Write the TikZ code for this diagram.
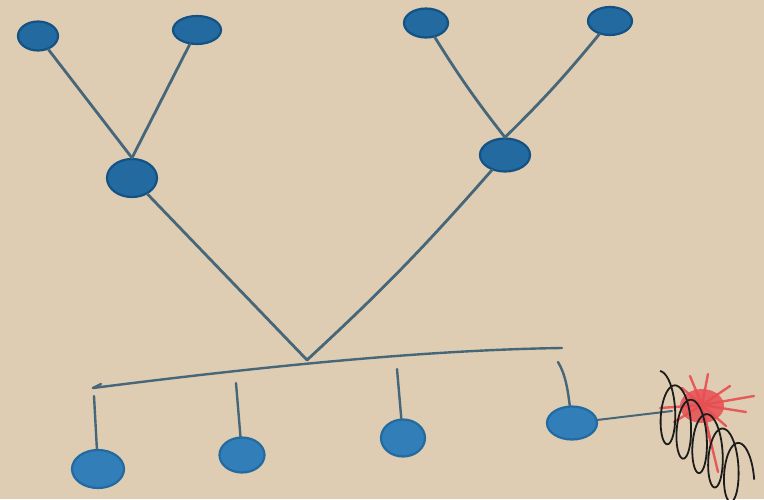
\documentclass[tikz,border=0pt]{standalone}
\usetikzlibrary{shapes.geometric}
\definecolor{paper}{RGB}{222,205,178}
\definecolor{nodeblue}{RGB}{34,106,160}
\definecolor{nodedark}{RGB}{20,82,132}
\definecolor{lowblue}{RGB}{50,126,184}
\definecolor{linecol}{RGB}{70,102,122}
\definecolor{scrib}{RGB}{28,28,28}
\definecolor{redmark}{RGB}{232,78,82}
\tikzset{
  dot/.style={ellipse, fill=nodeblue, draw=nodedark, line width=2.2pt, inner sep=0pt},
  lowdot/.style={dot, fill=lowblue, draw=nodeblue},
  link/.style={draw=linecol, line width=2.8pt, line cap=round},
  thin link/.style={link, line width=2.4pt}
}
\begin{document}
\begin{tikzpicture}[x=1pt,y=-1pt]
\fill[paper] (0,0) rectangle (764,499);
\useasboundingbox (0,0) rectangle (764,499);
% top-left group
\node[dot, minimum width=40pt, minimum height=29pt] (a1) at (38,36) {};
\node[dot, minimum width=48pt, minimum height=28pt] (a2) at (197,30) {};
\node[dot, minimum width=50pt, minimum height=38pt] (b1) at (132,178) {};
% top-right group
\node[dot, minimum width=44pt, minimum height=29pt] (c1) at (426,23) {};
\node[dot, minimum width=44pt, minimum height=28pt] (c2) at (610,21) {};
\node[dot, minimum width=50pt, minimum height=33pt] (d1) at (505,155) {};
% bottom nodes
\node[lowdot, minimum width=52pt, minimum height=38pt] (e1) at (98,469) {};
\node[lowdot, minimum width=45pt, minimum height=35pt] (e2) at (242,455) {};
\node[lowdot, minimum width=44pt, minimum height=37pt] (e3) at (403,438) {};
\node[lowdot, minimum width=50pt, minimum height=33pt] (e4) at (572,423) {};
% coordinates
\coordinate (v) at (307,360);
\coordinate (barL) at (93,388);
\coordinate (barR) at (562,348);
\coordinate (s1) at (94,396);
\coordinate (s2) at (236,383);
\coordinate (s3) at (397,369);
\coordinate (s4) at (558,362);
\coordinate (x) at (672,411);
% upper links
\draw[link] (a1) -- (b1.north);
\draw[link] (a2) -- (b1.north);
\draw[link] (c1) to[bend right=3] (d1.north);
\draw[link] (c2) to[bend left=3] (d1.north);
\draw[link] (b1) -- (v);
\draw[link] (d1) to[bend left=3] (v);
% bar
\draw[thin link] (barL) .. controls (250,368) and (420,350) .. (barR);
\draw[thin link] (barL) -- (101,384);
% stems
\draw[thin link] (s1) -- (e1);
\draw[thin link] (s2) -- (e2);
\draw[thin link] (s3) -- (e3);
\draw[thin link] (s4) .. controls (566,375) and (568,392) .. (e4);
\draw[thin link, line width=2pt] (e4) -- (x);
% red star burst
\fill[redmark, opacity=0.85] (702,406) ellipse (22pt and 17pt);
\foreach \ex/\ey in {690/376, 708/374, 730/386, 754/396, 746/412, 718/472, 712/448, 674/422, 682/388, 726/426, 660/408}
  \draw[redmark, line width=2.4pt, line cap=round, opacity=0.9] (702,405) -- (\ex,\ey);
% black scribble coil
\draw[scrib, line width=1.8pt, line join=round, smooth]
  plot[domain=0:1890, samples=240, variable=\t]
  ({660 + 0.044*\t + 11*sin(\t)}, {404 + 0.04*\t - 33*cos(\t)});
\end{tikzpicture}
\end{document}
